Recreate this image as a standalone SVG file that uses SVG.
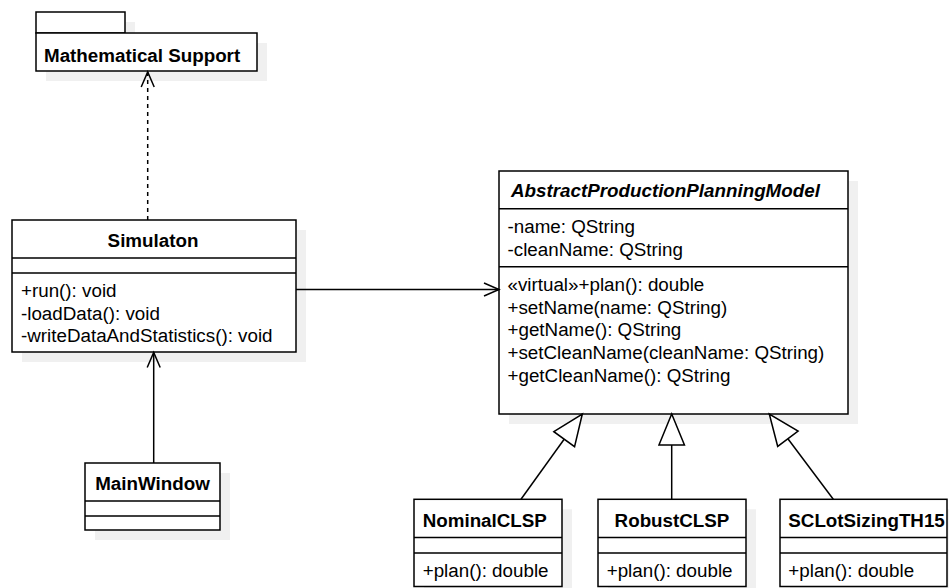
<svg xmlns="http://www.w3.org/2000/svg" width="949" height="588" viewBox="0 0 949 588">
<style>
.box{fill:#fff;stroke:#000;stroke-width:1.5}
.sh{fill:#f0f0f0;stroke:none}
.sep{stroke:#000;stroke-width:1.5;fill:none}
text{font-family:"Liberation Sans",Arial,sans-serif;font-size:18.8px;fill:#000}
.b{font-weight:bold}
.bi{font-weight:bold;font-style:italic}
.c{text-anchor:middle}
.ln{stroke:#000;stroke-width:1.5;fill:none}
.dash{stroke-dasharray:4 4}
</style>
<defs>
<marker id="open" markerUnits="userSpaceOnUse" markerWidth="17" markerHeight="15" viewBox="-1 -1 17 15" refX="15" refY="6.5" orient="auto" overflow="visible">
<path d="M0,0 L15,6.5 L0,13" fill="none" stroke="#000" stroke-width="1.5"/>
</marker>
<marker id="tri" markerUnits="userSpaceOnUse" markerWidth="33" markerHeight="28" viewBox="-1 -1 33 28" refX="31" refY="12.75" orient="auto" overflow="visible">
<path d="M0,0 L31,12.75 L0,25.5 Z" fill="#fff" stroke="#000" stroke-width="1.5"/>
</marker>
</defs>

<g id="mathematical-support">
<rect class="sh" x="46" y="22" width="89" height="21"/>
<rect class="sh" x="46" y="43" width="221" height="38"/>
<rect class="box" x="36" y="12" width="89" height="21"/>
<rect class="box" x="36" y="33" width="221" height="38"/>
<text class="b" x="44" y="62">Mathematical Support</text>
</g>

<g id="simulaton">
<rect class="sh" x="22" y="230" width="284" height="132"/>
<rect class="box" x="12" y="220" width="284" height="132"/>
<path class="sep" d="M12,258 H296 M12,273 H296"/>
<text class="b c" x="153" y="247">Simulaton</text>
<text x="21" y="297">+run(): void</text>
<text x="21" y="319.5">-loadData(): void</text>
<text x="21" y="342">-writeDataAndStatistics(): void</text>
</g>

<g id="mainwindow">
<rect class="sh" x="95" y="473" width="135" height="67"/>
<rect class="box" x="85" y="463" width="135" height="67"/>
<path class="sep" d="M85,501 H220 M85,516 H220"/>
<text class="b c" x="152.5" y="489.5">MainWindow</text>
</g>

<g id="abstract-production-planning-model">
<rect class="sh" x="509" y="181" width="349" height="243"/>
<rect class="box" x="499" y="171" width="349" height="243"/>
<path class="sep" d="M499,208.7 H848 M499,266.7 H848"/>
<text class="bi" x="511" y="197">AbstractProductionPlanningModel</text>
<text x="507.5" y="233">-name: QString</text>
<text x="507.5" y="256">-cleanName: QString</text>
<text x="507.5" y="291">«virtual»+plan(): double</text>
<text x="507.5" y="313.7">+setName(name: QString)</text>
<text x="507.5" y="336.4">+getName(): QString</text>
<text x="507.5" y="359.1">+setCleanName(cleanName: QString)</text>
<text x="507.5" y="381.8">+getCleanName(): QString</text>
</g>

<g id="nominalclsp">
<rect class="sh" x="424" y="509.3" width="148" height="87.2"/>
<rect class="box" x="414" y="499.3" width="148" height="87.2"/>
<path class="sep" d="M414,537.5 H562 M414,553 H562"/>
<text class="b" x="422.7" y="526.5">NominalCLSP</text>
<text x="422.7" y="577">+plan(): double</text>
</g>

<g id="robustclsp">
<rect class="sh" x="608" y="509.3" width="148" height="87.2"/>
<rect class="box" x="598" y="499.3" width="148" height="87.2"/>
<path class="sep" d="M598,537.5 H746 M598,553 H746"/>
<text class="b c" x="672" y="526.5">RobustCLSP</text>
<text x="606.7" y="577">+plan(): double</text>
</g>

<g id="sclotsizingth15">
<rect class="sh" x="790" y="509.3" width="167" height="87.2"/>
<rect class="box" x="780" y="499.3" width="167" height="87.2"/>
<path class="sep" d="M780,537.5 H947 M780,553 H947"/>
<text class="b" x="788.3" y="526.5">SCLotSizingTH15</text>
<text x="788.3" y="577">+plan(): double</text>
</g>

<g id="connectors">
<path class="ln dash" d="M147.7,220 V72" marker-end="url(#open)"/>
<path class="ln" d="M153.7,463 V352.5" marker-end="url(#open)"/>
<path class="ln" d="M296,289.5 H499" marker-end="url(#open)"/>
<path class="ln" d="M521,499.3 L582.3,414" marker-end="url(#tri)"/>
<path class="ln" d="M671.7,499.3 V414" marker-end="url(#tri)"/>
<path class="ln" d="M833.3,499.3 L769.3,414" marker-end="url(#tri)"/>
</g>
</svg>
